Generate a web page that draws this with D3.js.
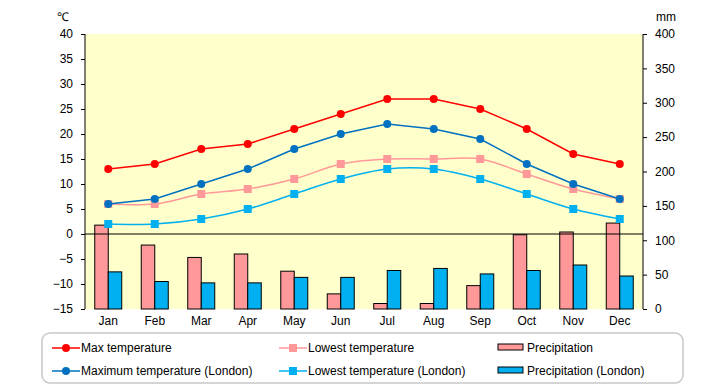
<!DOCTYPE html>
<html>
<head>
<meta charset="utf-8">
<script src="https://cdn.jsdelivr.net/npm/d3@7"></script>
<style>
body { margin: 0; background: #fff; }
text { font-family: "Liberation Sans", Arial, sans-serif; font-size: 12px; fill: #000; }
</style>
</head>
<body>
<script>
let months = ["Jan","Feb","Mar","Apr","May","Jun","Jul","Aug","Sep","Oct","Nov","Dec"];
let maxTemp = [13,14,17,18,21,24,27,27,25,21,16,14];
let lowTemp = [6,6,8,9,11,14,15,15,15,12,9,7];
let maxLondon = [6,7,10,13,17,20,22,21,19,14,10,7];
let lowLondon = [2,2,3,5,8,11,13,13,11,8,5,3];
let precip = [122,93,75,80,55,22,8,8,34,108,112,125];
let precipLondon = [54,40,38,38,46,46,56,59,51,56,64,48];
let tempTicks = [40,35,30,25,20,15,10,5,0,-5,-10,-15];
let mmTicks = [400,350,300,250,200,150,100,50,0];

let w = 720, h = 385;
let pLeft = 85, pRight = 643, pTop = 34, pBottom = 309;

const svg = d3.select("body")
  .append("svg")
  .attr("width", w)
  .attr("height", h);

let x = d3.scaleBand().domain(months).range([pLeft, pRight]);
let yT = d3.scaleLinear().domain([-15, 40]).range([pBottom, pTop]);
let yP = d3.scaleLinear().domain([0, 400]).range([pBottom, pTop]);

// plot background
svg.append("rect")
  .attr("x", pLeft).attr("y", pTop)
  .attr("width", pRight - pLeft).attr("height", pBottom - pTop)
  .attr("fill", "#ffffcc");

// bars
let bw = 13.5;
svg.selectAll("rect.p1")
  .data(precip)
  .enter()
  .append("rect")
  .attr("class", "p1")
  .attr("x", function(d, i){ return x(months[i]) + x.bandwidth()/2 - bw; })
  .attr("y", function(d){ return yP(d); })
  .attr("width", bw)
  .attr("height", function(d){ return pBottom - yP(d); })
  .attr("fill", "#ff9999")
  .attr("stroke", "#000")
  .attr("stroke-width", 1);

svg.selectAll("rect.p2")
  .data(precipLondon)
  .enter()
  .append("rect")
  .attr("class", "p2")
  .attr("x", function(d, i){ return x(months[i]) + x.bandwidth()/2; })
  .attr("y", function(d){ return yP(d); })
  .attr("width", bw)
  .attr("height", function(d){ return pBottom - yP(d); })
  .attr("fill", "#00b0f0")
  .attr("stroke", "#000")
  .attr("stroke-width", 1);

// zero line
svg.append("line")
  .attr("x1", pLeft).attr("x2", pRight)
  .attr("y1", yT(0)).attr("y2", yT(0))
  .attr("stroke", "#000");

// axes
svg.append("g")
  .attr("transform", "translate(" + pLeft + ",0)")
  .call(d3.axisLeft(yT).tickValues(tempTicks).tickSize(4).tickPadding(8))
  .call(g => g.selectAll("text").style("font-size", "12px"));

svg.append("g")
  .attr("transform", "translate(" + pRight + ",0)")
  .call(d3.axisRight(yP).tickValues(mmTicks).tickSize(4).tickPadding(8))
  .call(g => g.selectAll("text").style("font-size", "12px"));

svg.selectAll("path.domain").attr("d", function(){
  return "M0," + pTop + "V" + pBottom;
});

svg.selectAll("text.month")
  .data(months)
  .enter()
  .append("text")
  .attr("class", "month")
  .attr("x", function(d){ return x(d) + x.bandwidth()/2; })
  .attr("y", 325)
  .attr("text-anchor", "middle")
  .text(function(d){ return d; });

svg.append("text").attr("x", 57).attr("y", 21).text("℃");
svg.append("text").attr("x", 656).attr("y", 21).text("mm");

// lines
let series = [
  { data: maxTemp, color: "#ff0000", marker: "circle", curve: d3.curveLinear },
  { data: lowTemp, color: "#ff9999", marker: "square", curve: d3.curveCatmullRom },
  { data: maxLondon, color: "#0070c0", marker: "circle", curve: d3.curveLinear },
  { data: lowLondon, color: "#00b0f0", marker: "square", curve: d3.curveCatmullRom }
];

series.forEach(function(s){
  let line = d3.line()
    .x(function(d, i){ return x(months[i]) + x.bandwidth()/2; })
    .y(function(d){ return yT(d); })
    .curve(s.curve);
  svg.append("path")
    .datum(s.data)
    .attr("d", line)
    .attr("fill", "none")
    .attr("stroke", s.color)
    .attr("stroke-width", 1.5);
  let g = svg.append("g");
  if (s.marker == "circle") {
    g.selectAll("circle")
      .data(s.data)
      .enter()
      .append("circle")
      .attr("cx", function(d, i){ return x(months[i]) + x.bandwidth()/2; })
      .attr("cy", function(d){ return yT(d); })
      .attr("r", 4)
      .attr("fill", s.color);
  } else {
    g.selectAll("rect")
      .data(s.data)
      .enter()
      .append("rect")
      .attr("x", function(d, i){ return x(months[i]) + x.bandwidth()/2 - 4; })
      .attr("y", function(d){ return yT(d) - 4; })
      .attr("width", 8)
      .attr("height", 8)
      .attr("fill", s.color);
  }
});

// legend
svg.append("rect")
  .attr("x", 42).attr("y", 333)
  .attr("width", 641).attr("height", 50)
  .attr("rx", 8)
  .attr("fill", "#fff")
  .attr("stroke", "#c8c8c8")
  .attr("stroke-width", 1.5);

let legendItems = [
  { name: "Max temperature", color: "#ff0000", type: "circle", x: 52, y: 348 },
  { name: "Lowest temperature", color: "#ff9999", type: "square", x: 279, y: 348 },
  { name: "Precipitation", color: "#ff9999", type: "bar", x: 498, y: 348 },
  { name: "Maximum temperature (London)", color: "#0070c0", type: "circle", x: 52, y: 371 },
  { name: "Lowest temperature (London)", color: "#00b0f0", type: "square", x: 279, y: 371 },
  { name: "Precipitation (London)", color: "#00b0f0", type: "bar", x: 498, y: 371 }
];

legendItems.forEach(function(d){
  if (d.type == "bar") {
    svg.append("rect")
      .attr("x", d.x).attr("y", d.y - 4)
      .attr("width", 25).attr("height", 6)
      .attr("fill", d.color).attr("stroke", "#000").attr("stroke-width", 1);
  } else {
    svg.append("line")
      .attr("x1", d.x).attr("x2", d.x + 28)
      .attr("y1", d.y).attr("y2", d.y)
      .attr("stroke", d.color).attr("stroke-width", 1.5);
    if (d.type == "circle") {
      svg.append("circle").attr("cx", d.x + 14).attr("cy", d.y).attr("r", 4).attr("fill", d.color);
    } else {
      svg.append("rect").attr("x", d.x + 10).attr("y", d.y - 4).attr("width", 8).attr("height", 8).attr("fill", d.color);
    }
  }
  svg.append("text")
    .attr("x", d.x + 29)
    .attr("y", d.y + 4)
    .text(d.name);
});
</script>
</body>
</html>
